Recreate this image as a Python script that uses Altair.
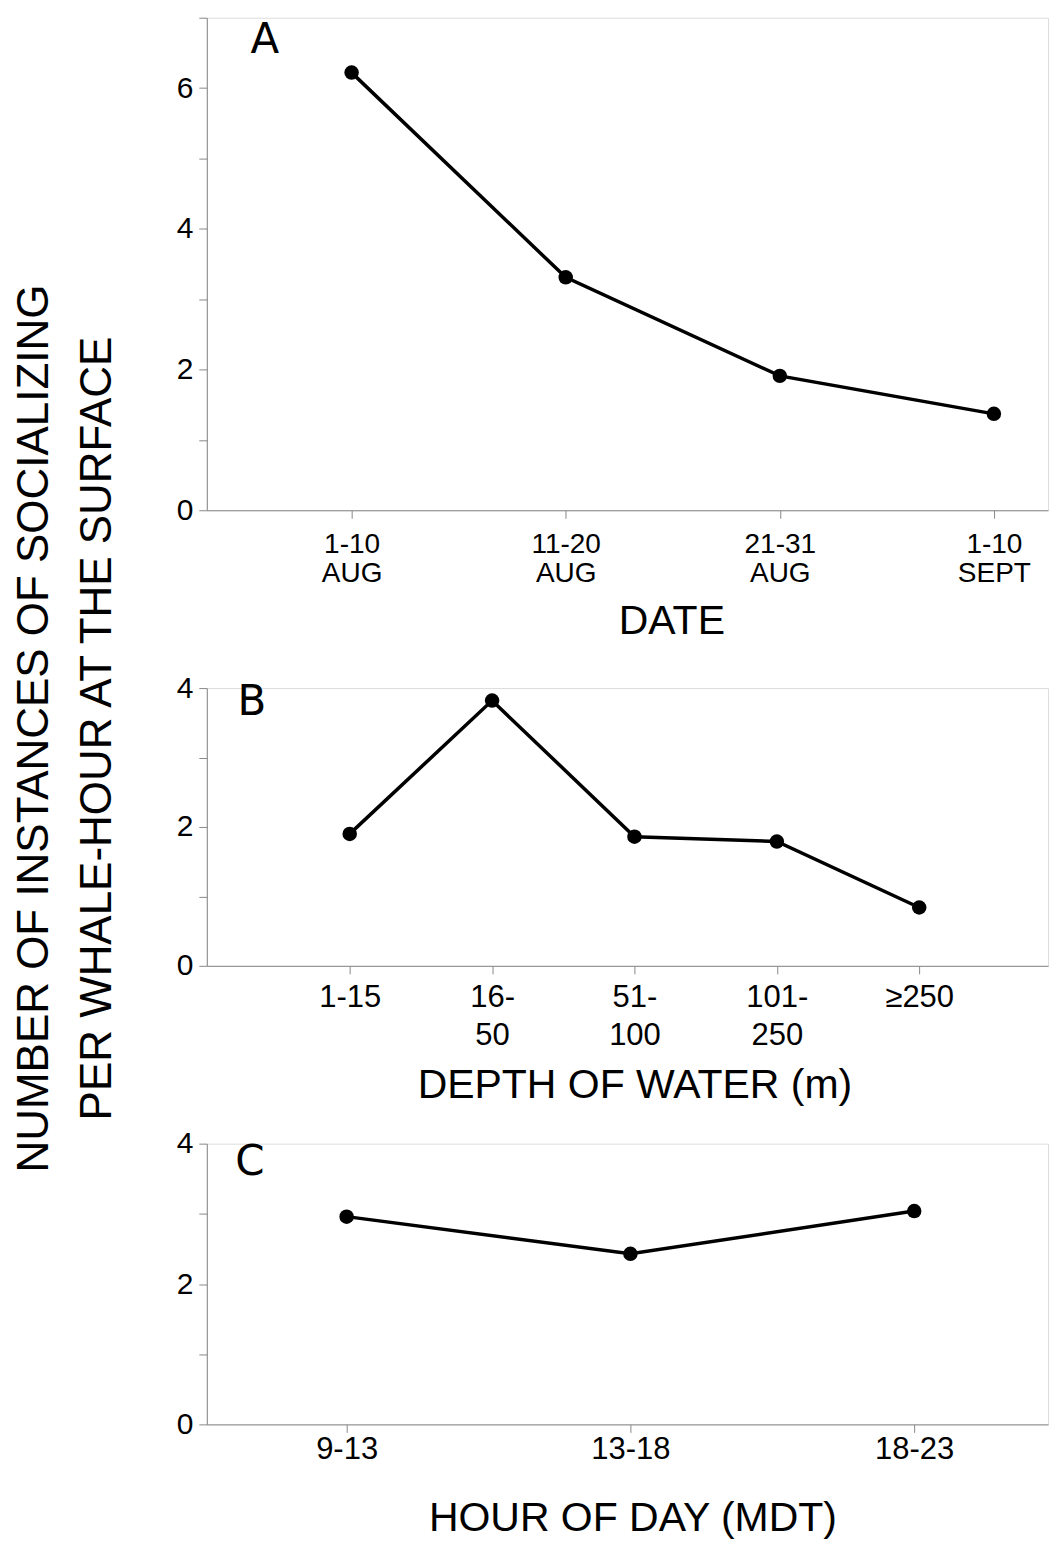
import altair as alt
import pandas as pd

# ---- data ----
date_cats = ["1-10\nAUG", "11-20\nAUG", "21-31\nAUG", "1-10\nSEPT"]
date_vals = [6.22, 3.31, 1.91, 1.37]

depth_cats = ["1-15", "16-\n50", "51-\n100", "101-\n250", "≥250"]
depth_vals = [1.90, 3.82, 1.86, 1.79, 0.84]

hour_cats = ["9-13", "13-18", "18-23"]
hour_vals = [2.96, 2.43, 3.04]

panel_letters = ["A", "B", "C"]
x_titles = ["DATE", "DEPTH OF WATER (m)", "HOUR OF DAY (MDT)"]
y_title = ["NUMBER OF INSTANCES OF SOCIALIZING", "PER WHALE-HOUR AT THE SURFACE"]

FONT = "DejaVu Sans"
W = 842


def panel(cats, vals, letter, ymax, h, xtitle, pad, align, lab_fs, lab_lh, lab_pad,
          tx, ty, lx, ly, show_ytitle=False):
    df = pd.DataFrame({"cat": cats, "val": vals, "i": list(range(len(cats)))})
    yaxis_kw = dict(
        values=list(range(ymax + 1)),
        labelExpr="datum.value % 2 == 0 ? datum.label : ''",
        tickSize=8, labelPadding=6, labelFontSize=30, grid=False,
    )
    if show_ytitle:
        yaxis_kw.update(
            title=y_title, titleFontSize=44, titleLineHeight=63, titleAngle=270,
            titleX=-194, titleY=40, titleAlign="center", titleBaseline="top",
            titleFontWeight="normal",
        )
    else:
        yaxis_kw.update(title=None)
    x = alt.X(
        "cat:N", sort=cats,
        scale=alt.Scale(type="point", padding=pad, align=align),
        axis=alt.Axis(
            title=xtitle, labelExpr="split(datum.label, '\\n')", labelAngle=0,
            labelFontSize=lab_fs, labelLineHeight=lab_lh, labelPadding=lab_pad,
            labelBaseline="top", tickSize=8,
            titleFontSize=41, titleX=tx, titleY=ty, titleAlign="center",
            titleBaseline="top", titleFontWeight="normal",
        ),
    )
    y = alt.Y("val:Q", scale=alt.Scale(domain=[0, ymax], nice=False, zero=True),
              axis=alt.Axis(**yaxis_kw))
    base = alt.Chart(df).encode(x=x, y=y, order=alt.Order("i:Q"))
    line = base.mark_line(color="black", strokeWidth=3.5)
    pts = base.mark_circle(size=210, color="black", opacity=1)
    lab = alt.Chart(pd.DataFrame({"t": [letter]})).mark_text(
        font=FONT, fontSize=42, color="black", align="center", baseline="alphabetic"
    ).encode(text="t:N", x=alt.value(lx), y=alt.value(ly))
    return alt.layer(line, pts, lab).properties(width=W, height=h)


pA = panel(date_cats, date_vals, panel_letters[0], 7, 493, x_titles[0],
           0.4645, 0.728, 28, 29, 12, 465, 91, 58, 35)
pB = panel(depth_cats, depth_vals, panel_letters[1], 4, 278, x_titles[1],
           0.954, 0.526, 31, 38, 9, 428, 100, 45, 27, show_ytitle=True)
pC = panel(hour_cats, hour_vals, panel_letters[2], 4, 281, x_titles[2],
           0.482, 0.511, 31, 31, 2, 426, 74, 43, 31)

chart = alt.vconcat(pA, pB, pC, spacing=178, bounds="flush").properties(
    padding={"left": 4, "top": 8, "right": 0, "bottom": 10}
).configure_view(stroke=None).configure_axis(
    domainColor="black", domainWidth=3, tickColor="black", tickWidth=3,
    labelColor="black", titleColor="black", labelFont=FONT, titleFont=FONT,
).configure(background="white")

chart.save("out.html", embed_options={"renderer": "svg", "actions": False})
